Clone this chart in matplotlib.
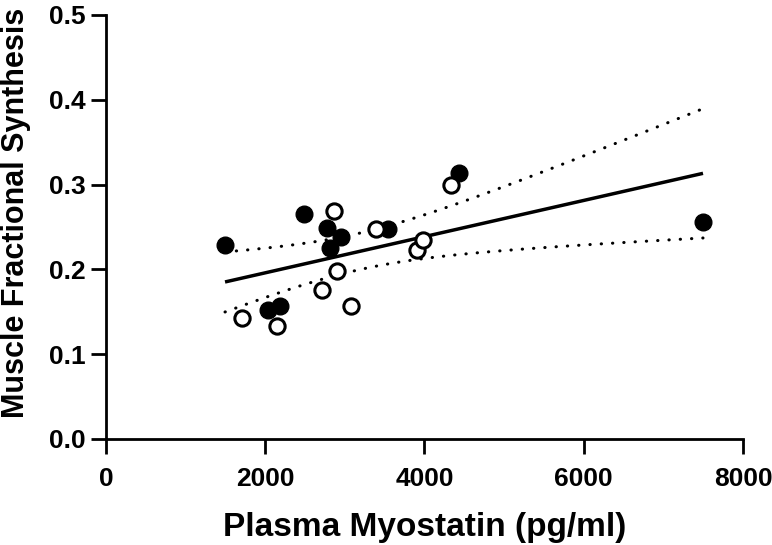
import numpy as np
import matplotlib
matplotlib.use("Agg")
import matplotlib.pyplot as plt

# filled circles
filled_x = [1495, 2035, 2186, 2487, 2776, 2813, 2951, 3542, 4434, 7498]
filled_y = [0.229, 0.152, 0.157, 0.265, 0.249, 0.225, 0.238, 0.248, 0.314, 0.256]
# open circles
open_x = [1708, 2148, 2713, 2864, 2901, 3077, 3391, 3906, 3982, 4333]
open_y = [0.143, 0.133, 0.176, 0.269, 0.198, 0.157, 0.248, 0.223, 0.235, 0.300]

x_ticks = [0, 2000, 4000, 6000, 8000]
y_ticks = [0.0, 0.1, 0.2, 0.3, 0.4, 0.5]
T_CRIT = 2.101  # t(0.975, df=18)

plt.rcParams["font.family"] = ["Liberation Sans", "DejaVu Sans"]
plt.rcParams["font.weight"] = "bold"

# linear fit + 95% confidence band, all points pooled
x = np.array(filled_x + open_x, float)
y = np.array(filled_y + open_y, float)
slope, icpt = np.polyfit(x, y, 1)
n = len(x)
resid = y - (slope * x + icpt)
s = np.sqrt(np.sum(resid ** 2) / (n - 2))
xs = np.linspace(x.min(), x.max(), 200)
fit = slope * xs + icpt
se = s * np.sqrt(1 / n + (xs - x.mean()) ** 2 / np.sum((x - x.mean()) ** 2))

fig = plt.figure(figsize=(7.72, 5.45), dpi=100)
ax = fig.add_axes([0.1373, 0.1945, 0.8251, 0.778])

ax.plot(xs, fit, color="black", lw=2.5, solid_capstyle="butt")
for band in (fit + T_CRIT * se, fit - T_CRIT * se):
    ax.plot(xs, band, color="black", lw=2.2, linestyle=(0, (0.1, 3.6)),
            dash_capstyle="round")

ax.plot(filled_x, filled_y, "o", ms=12, color="black", zorder=3)
ax.plot(open_x, open_y, "o", ms=11, mfc="white", mec="black", mew=2.2, zorder=3)

ax.set_xlim(0, 8000)
ax.set_ylim(0, 0.5)
ax.set_xticks(x_ticks)
ax.set_yticks(y_ticks)
ax.set_yticklabels([f"{v:.1f}" for v in y_ticks])
for sp in ("top", "right"):
    ax.spines[sp].set_visible(False)
for sp in ("left", "bottom"):
    ax.spines[sp].set_linewidth(2.0)
ax.tick_params(axis="x", width=2.0, length=10.5, labelsize=19, pad=10)
ax.tick_params(axis="y", width=2.0, length=10.5, labelsize=19, pad=4)
ax.set_xlabel("Plasma Myostatin (pg/ml)", fontsize=24, fontweight="bold", va="top")
ax.set_ylabel("Muscle Fractional Synthesis", fontsize=22, fontweight="bold")
ax.xaxis.set_label_coords(0.5, -0.172)
ax.yaxis.set_label_coords(-0.118, 0.533)

fig.savefig("out.png", dpi=100)
